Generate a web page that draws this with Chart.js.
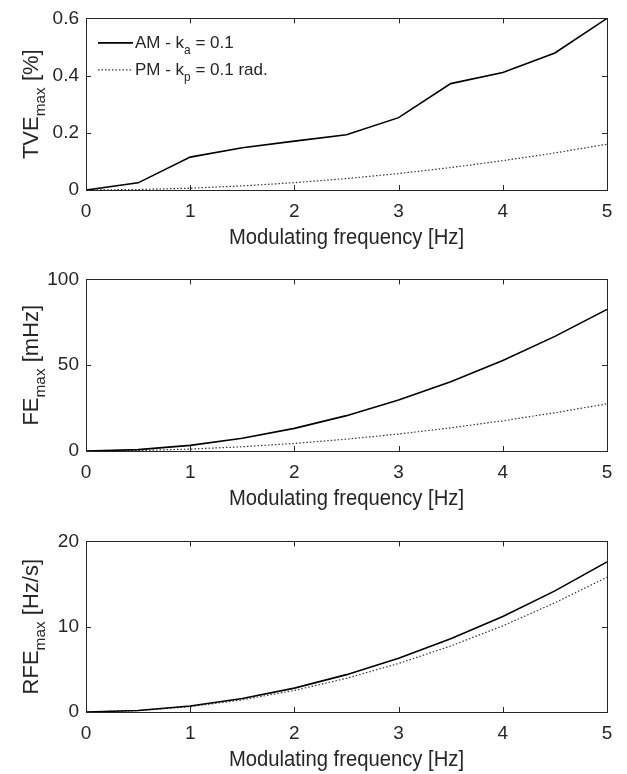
<!DOCTYPE html>
<html>
<head>
<meta charset="utf-8">
<script src="https://cdn.jsdelivr.net/npm/chart.js@4.4.1/dist/chart.umd.min.js"></script>
<style>
    html, body { margin: 0; padding: 0; background: #fff; }
    #wrap { position: relative; width: 627px; height: 774px; }
    .panel { position: absolute; left: 0; width: 627px; }
</style>
</head>
<body>
<div id="wrap">
    <div class="panel" style="top:0;height:261px"><canvas id="tveChart"></canvas></div>
    <div class="panel" style="top:261px;height:262px"><canvas id="feChart"></canvas></div>
    <div class="panel" style="top:523px;height:251px"><canvas id="rfeChart"></canvas></div>
</div>
<script>
// ─── Data ─────────────────────────────────────────────────────────────────────
const freq = [0, 0.5, 1, 1.5, 2, 2.5, 3, 3.5, 4, 4.5, 5];
const xTicks = [0, 1, 2, 3, 4, 5];

const tveAM = [0, 0.025, 0.115, 0.148, 0.171, 0.193, 0.253, 0.372, 0.411, 0.479, 0.6];
const tvePM = [0, 0.0016, 0.0064, 0.0144, 0.0256, 0.04, 0.0576, 0.0784, 0.1024, 0.1296, 0.16];
const tveTicks = [0, 0.2, 0.4, 0.6];

const feAM = [0, 0.8, 3.3, 7.4, 13.2, 20.6, 29.7, 40.4, 52.8, 66.8, 82.5];
const fePM = [0, 0.28, 1.1, 2.5, 4.4, 6.9, 9.9, 13.5, 17.6, 22.3, 27.5];
const feTicks = [0, 50, 100];

const rfeAM = [0, 0.18, 0.7, 1.58, 2.8, 4.38, 6.3, 8.58, 11.2, 14.2, 17.6];
const rfePM = [0, 0.16, 0.63, 1.42, 2.53, 3.95, 5.69, 7.74, 10.1, 12.8, 15.8];
const rfeTicks = [0, 10, 20];

const legendLabels = [
    [{ t: 'AM - k' }, { t: 'a', sub: true }, { t: ' = 0.1' }],
    [{ t: 'PM - k' }, { t: 'p', sub: true }, { t: ' = 0.1 rad.' }]
];

const FONT = "'Liberation Sans', Arial, Helvetica, sans-serif";
const AXIS = '#262626';
const TICK_SIZE = 19;
const TITLE_SIZE = 22;
const LEGEND_SIZE = 17;

// ─── Text helpers (subscripts) ────────────────────────────────────────────────
function richWidth(ctx, parts, size) {
    let w = 0;
    parts.forEach(p => {
        ctx.font = `${p.sub ? size * 0.7 : size}px ${FONT}`;
        w += ctx.measureText(p.t).width;
    });
    return w;
}

function drawRich(ctx, parts, size, x, y) {
    let cx = x;
    parts.forEach(p => {
        const fs = p.sub ? size * 0.7 : size;
        ctx.font = `${fs}px ${FONT}`;
        ctx.fillText(p.t, cx, y + (p.sub ? size * 0.32 : 0));
        cx += ctx.measureText(p.t).width;
    });
}

// ─── Box, inward ticks, titles, legend ────────────────────────────────────────
const matlabAxes = {
    id: 'matlabAxes',
    afterDraw(chart, args, opts) {
        const { ctx, chartArea: a, scales } = chart;
        const xs = scales.x, ys = scales.y;
        ctx.save();
        ctx.strokeStyle = AXIS;
        ctx.lineWidth = 1;
        ctx.strokeRect(Math.round(a.left) + 0.5, Math.round(a.top) + 0.5,
            Math.round(a.right - a.left), Math.round(a.bottom - a.top));

        ctx.beginPath();
        xTicks.forEach(v => {
            const px = Math.round(xs.getPixelForValue(v)) + 0.5;
            ctx.moveTo(px, a.bottom); ctx.lineTo(px, a.bottom - 5);
            ctx.moveTo(px, a.top); ctx.lineTo(px, a.top + 5);
        });
        opts.yTicks.forEach(v => {
            const py = Math.round(ys.getPixelForValue(v)) + 0.5;
            ctx.moveTo(a.left, py); ctx.lineTo(a.left + 5, py);
            ctx.moveTo(a.right, py); ctx.lineTo(a.right - 5, py);
        });
        ctx.stroke();

        ctx.fillStyle = AXIS;
        ctx.textBaseline = 'alphabetic';
        ctx.textAlign = 'left';

        // x title, slightly condensed like the original rendering
        const xt = [{ t: 'Modulating frequency [Hz]' }];
        const xw = richWidth(ctx, xt, TITLE_SIZE) * 0.92;
        ctx.save();
        ctx.translate((a.left + a.right) / 2 - xw / 2, a.bottom + 54);
        ctx.scale(0.92, 1);
        drawRich(ctx, xt, TITLE_SIZE, 0, 0);
        ctx.restore();

        // y title (rotated)
        const yw = richWidth(ctx, opts.yLabel, TITLE_SIZE);
        ctx.save();
        ctx.translate(38, (a.top + a.bottom) / 2);
        ctx.rotate(-Math.PI / 2);
        drawRich(ctx, opts.yLabel, TITLE_SIZE, -yw / 2, 0);
        ctx.restore();

        // legend
        if (opts.legend) {
            const rows = [a.top + 24, a.top + 51];
            chart.data.datasets.forEach((ds, i) => {
                ctx.save();
                ctx.strokeStyle = ds.borderColor;
                ctx.lineWidth = ds.borderWidth;
                ctx.setLineDash(ds.borderDash || []);
                ctx.beginPath();
                ctx.moveTo(a.left + 12, rows[i] + 0.5);
                ctx.lineTo(a.left + 47, rows[i] + 0.5);
                ctx.stroke();
                ctx.restore();
                drawRich(ctx, legendLabels[i], LEGEND_SIZE, a.left + 49, rows[i] + 6);
            });
        }
        ctx.restore();
    }
};

// ─── Charts ───────────────────────────────────────────────────────────────────
function toPoints(arr) {
    return freq.map((f, i) => ({ x: f, y: arr[i] }));
}

function makePanel(id, am, pm, yTicks, yLabel, xAxisHeight, legend) {
    return new Chart(document.getElementById(id), {
        type: 'line',
        data: {
            datasets: [{
                data: toPoints(am),
                borderColor: '#000',
                borderWidth: 1.6,
                pointRadius: 0,
                tension: 0
            }, {
                data: toPoints(pm),
                borderColor: '#333',
                borderWidth: 1.2,
                borderDash: [1.5, 2],
                pointRadius: 0,
                tension: 0
            }]
        },
        options: {
            responsive: true,
            maintainAspectRatio: false,
            animation: false,
            layout: { padding: { top: 15, right: 20, left: 0, bottom: 0 } },
            plugins: {
                legend: { display: false },
                tooltip: { enabled: false },
                matlabAxes: { yTicks, yLabel, legend }
            },
            scales: {
                x: {
                    type: 'linear',
                    min: 0,
                    max: 5,
                    grid: { display: false, drawTicks: false },
                    border: { display: false },
                    afterBuildTicks: s => { s.ticks = xTicks.map(v => ({ value: v })); },
                    afterFit: s => { s.height = xAxisHeight; },
                    ticks: { color: AXIS, padding: 10, maxRotation: 0, font: { family: FONT, size: TICK_SIZE } }
                },
                y: {
                    min: yTicks[0],
                    max: yTicks[yTicks.length - 1],
                    grid: { display: false, drawTicks: false },
                    border: { display: false },
                    afterBuildTicks: s => { s.ticks = yTicks.map(v => ({ value: v })); },
                    afterFit: s => { s.width = 86; },
                    ticks: { color: AXIS, padding: 7, font: { family: FONT, size: TICK_SIZE }, callback: v => String(v) }
                }
            }
        },
        plugins: [matlabAxes]
    });
}

makePanel('tveChart', tveAM, tvePM, tveTicks,
    [{ t: 'TVE' }, { t: 'max', sub: true }, { t: ' [%]' }], 71, true);
makePanel('feChart', feAM, fePM, feTicks,
    [{ t: 'FE' }, { t: 'max', sub: true }, { t: ' [mHz]' }], 72, false);
makePanel('rfeChart', rfeAM, rfePM, rfeTicks,
    [{ t: 'RFE' }, { t: 'max', sub: true }, { t: ' [Hz/s]' }], 62, false);
</script>
</body>
</html>
